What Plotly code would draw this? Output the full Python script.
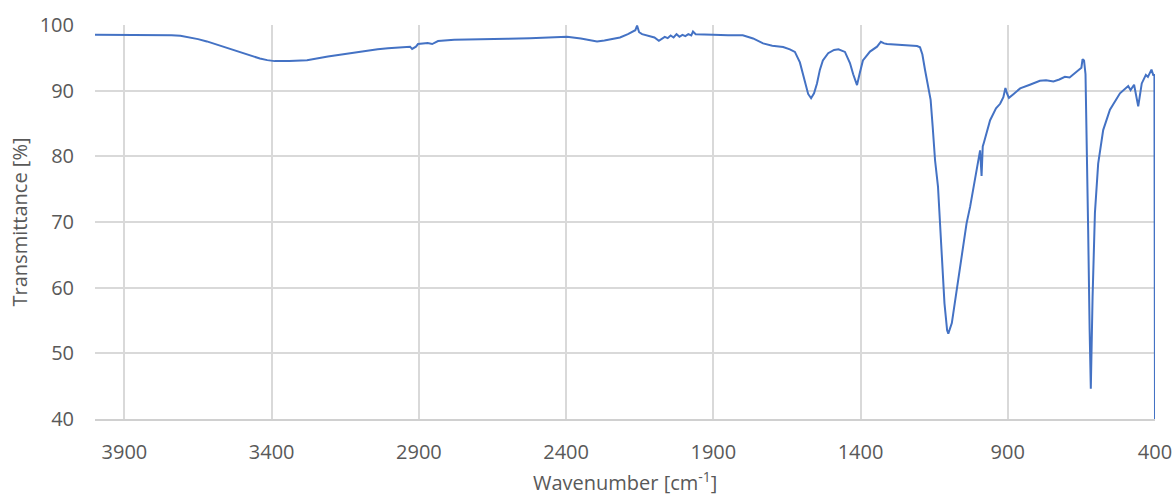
import plotly.graph_objects as go

wavenumber = [
    4000, 3900, 3800, 3740, 3710, 3680, 3650, 3620, 3590, 3560, 3530, 3500, 3470, 3440, 3415,
    3390, 3340, 3280, 3209, 3150, 3093,
    3040, 3005, 2960, 2930, 2923, 2910, 2903, 2870, 2855, 2835, 2780, 2693, 2600, 2523, 2450,
    2397, 2350, 2310, 2295, 2270, 2240, 2217, 2190, 2175, 2165, 2159, 2152, 2142, 2115, 2100,
    2085, 2075, 2065, 2055, 2045, 2035, 2025, 2015, 2005, 1995, 1985, 1975, 1969, 1960, 1945,
    1901, 1850, 1800, 1765, 1731, 1700, 1663, 1640, 1623, 1606, 1595, 1589, 1578, 1568, 1558,
    1548, 1538, 1528, 1510, 1490, 1475, 1453, 1436, 1425, 1412, 1402, 1392, 1368, 1344, 1331,
    1320, 1310, 1266, 1208, 1198, 1190, 1181, 1166, 1162, 1155, 1147, 1137, 1124, 1115, 1106,
    1102, 1090, 1068, 1050, 1040, 1028, 1011, 994, 989, 985, 981, 960, 940, 926, 915,
    908, 902, 896, 880, 858, 825, 791, 770, 745, 725, 706, 690, 675, 660, 650,
    646, 641, 636, 632, 627, 622, 618, 612, 604, 593, 576, 553, 519, 491, 483,
    471, 457, 445, 431, 424, 412, 406, 402, 400,
]
transmittance = [
    98.5, 98.5, 98.5, 98.45, 98.35, 98.15, 97.85, 97.5, 97.05, 96.6, 96.15, 95.7, 95.25, 94.9, 94.65,
    94.5, 94.5, 94.65, 95.2, 95.6, 95.95,
    96.3, 96.45, 96.6, 96.7, 96.35, 96.7, 97.1, 97.25, 97.1, 97.55, 97.75, 97.87, 97.9, 97.97, 98.05,
    98.2, 97.95, 97.6, 97.5, 97.65, 97.9, 98.1, 98.6, 99.0, 99.2, 99.9, 98.9, 98.6, 98.3, 98.1,
    97.6, 97.9, 98.2, 98.0, 98.4, 98.1, 98.6, 98.2, 98.5, 98.3, 98.6, 98.4, 99.0, 98.6, 98.6,
    98.5, 98.45, 98.45, 97.95, 97.2, 96.85, 96.65, 96.3, 95.9, 94.3, 92.5, 91.1, 89.5, 88.85, 89.6,
    91.1, 93.2, 94.6, 95.7, 96.2, 96.3, 95.9, 94.2, 92.5, 90.85, 92.8, 94.6, 95.95, 96.7, 97.45,
    97.2, 97.1, 96.95, 96.8, 96.6, 95.5, 93.15, 89.6, 88.6, 84.5, 79.4, 75.4, 65.2, 57.6, 53.5,
    53.0, 54.6, 61.2, 67.0, 69.8, 72.3, 76.4, 80.9, 77.0, 81.5, 82.1, 85.5, 87.3, 88.0, 89.0,
    90.4, 89.5, 88.9, 89.5, 90.35, 90.9, 91.5, 91.6, 91.4, 91.7, 92.1, 92.0, 92.6, 93.1, 93.5,
    94.8, 94.6, 92.5, 84.0, 68.8, 53.6, 44.6, 58.6, 71.4, 78.9, 84.0, 87.1, 89.6, 90.7, 90.1,
    90.9, 87.6, 91.1, 92.4, 92.1, 93.2, 92.4, 92.4, 40.0,
]

x_title = "Wavenumber [cm<sup>-1</sup>]"
y_title = "Transmittance [%]"

FONT = "Open Sans"
GRID = "#d9d9d9"
TXT = "#595959"

fig = go.Figure()
fig.add_trace(go.Scatter(
    x=wavenumber, y=transmittance, mode="lines",
    line=dict(color="#4472C4", width=2), showlegend=False,
))

fig.update_layout(
    width=1174, height=495,
    margin=dict(l=95, r=19, t=25, b=76),
    paper_bgcolor="white", plot_bgcolor="white",
    font=dict(family=FONT, size=20, color=TXT),
)
fig.update_xaxes(
    range=[4000, 400], tick0=400, dtick=500,
    showgrid=True, gridcolor=GRID, gridwidth=2,
    showline=True, linecolor="#d0d0d0", linewidth=2,
    zeroline=False, ticks="", ticklabelstandoff=14,
    tickfont=dict(size=20, color=TXT),
    automargin=False,
)
fig.add_annotation(
    text=x_title, xref="paper", yref="paper", x=0.5, y=-0.158,
    xanchor="center", yanchor="middle", showarrow=False,
    font=dict(family=FONT, size=20, color=TXT),
)
fig.update_yaxes(
    range=[40, 100], dtick=10,
    showgrid=True, gridcolor=GRID, gridwidth=2,
    showline=False, zeroline=False, ticks="", ticklabelstandoff=20,
    tickfont=dict(size=20, color=TXT),
    title=dict(text=y_title, font=dict(size=20, color=TXT), standoff=6),
    automargin=False,
)

fig.write_html("out.html")
